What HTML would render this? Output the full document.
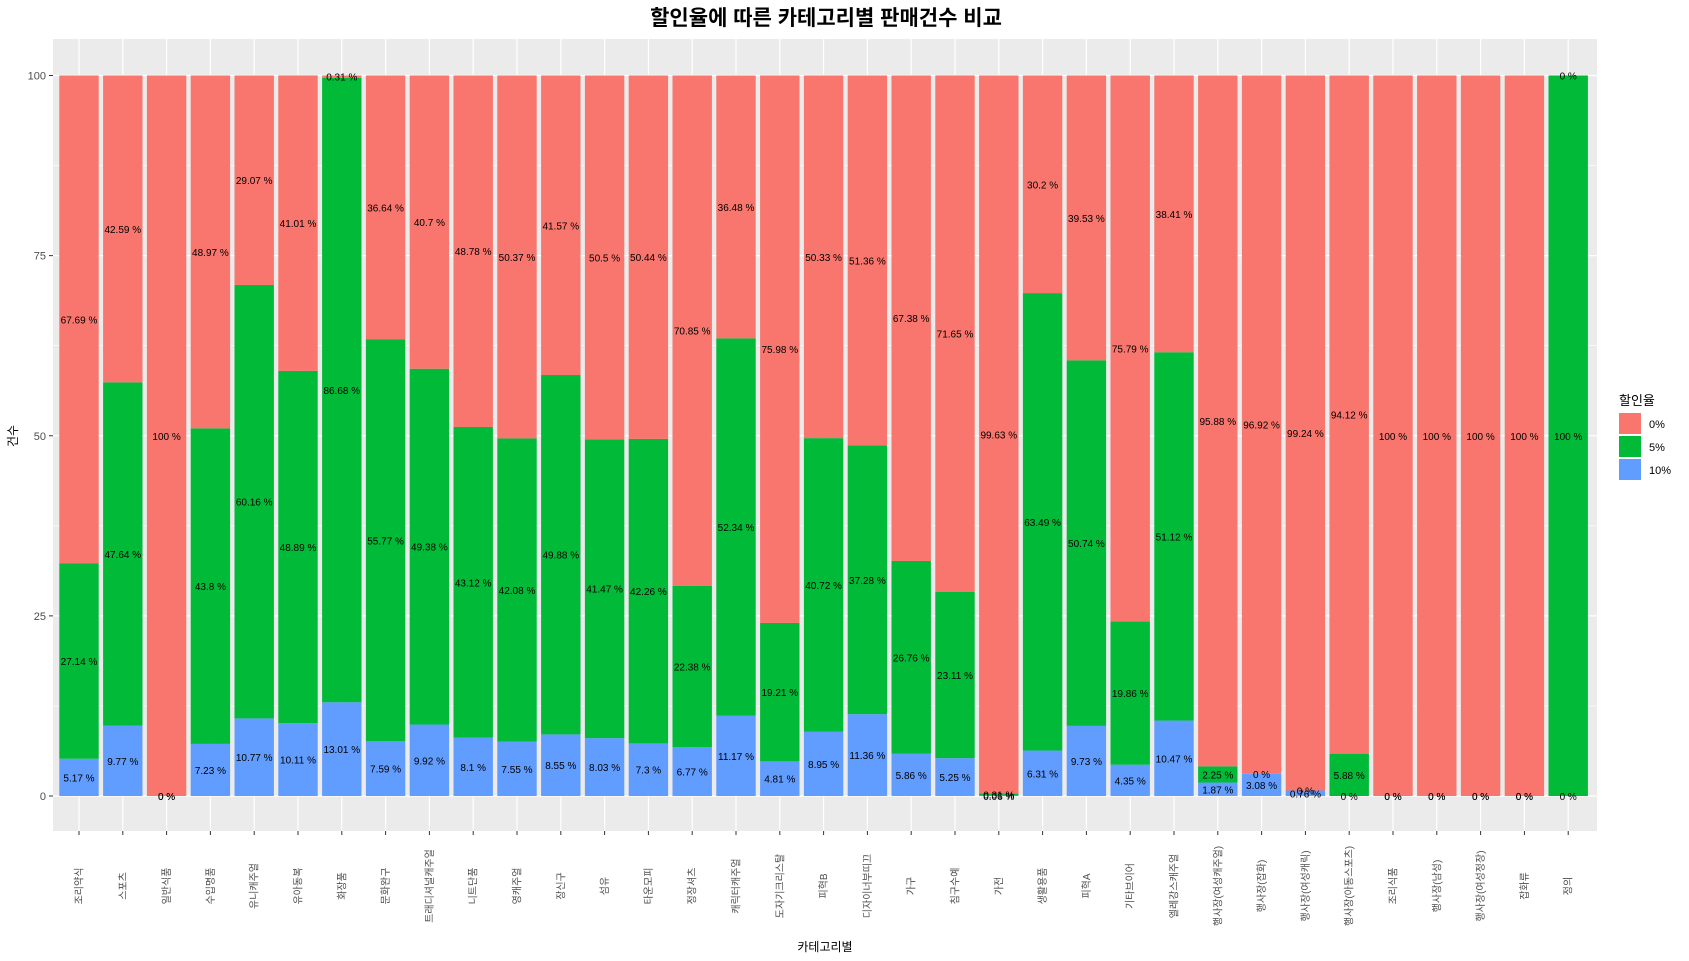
<!DOCTYPE html>
<html><head><meta charset="utf-8"><style>
html,body{margin:0;padding:0;background:#fff;}
svg{display:block;font-family:"Liberation Sans","Noto Sans CJK KR",sans-serif;}
</style></head><body>
<svg id="chart" width="1689" height="961">
<text x="826" y="25" text-anchor="middle" font-size="21" font-weight="bold">할인율에 따른 카테고리별 판매건수 비교</text>
<rect x="53" y="39" width="1544" height="792" fill="#ebebeb"/>
<g id="grid"></g><g id="bars"></g><g id="labels"></g><g id="axes"></g>
<text x="825" y="951" text-anchor="middle" font-size="12">카테고리별</text>
<text transform="translate(17,436) rotate(-90)" text-anchor="middle" font-size="12">건수</text>
<g>
<text x="1619" y="405" font-size="13">할인율</text>
<rect x="1619" y="413" width="22" height="21" fill="#F8766D"/>
<rect x="1619" y="436" width="22" height="21" fill="#00BA38"/>
<rect x="1619" y="459" width="22" height="21" fill="#619CFF"/>
<text x="1649" y="428" font-size="11">0%</text>
<text x="1649" y="451" font-size="11">5%</text>
<text x="1649" y="474" font-size="11">10%</text>
</g>
</svg>
<script>
const categories=["조리약식","스포츠","일반식품","수입명품","유니캐주얼","유아동복","화장품","문화완구","트래디셔널캐주얼","니트단품","영캐주얼","장신구","섬유","타운모피","정장셔츠","캐릭터캐주얼","도자기크리스탈","피혁B","디자이너부띠끄","가구","침구수예","가전","생활용품","피혁A","기타브이어","엘레강스캐주얼","행사장(여성캐주얼)","행사장(잡화)","행사장(여성캐릭)","행사장(아동스포츠)","조리식품","행사장(남성)","행사장(여성정장)","잡화류","정의"];
const pct10=[5.17,9.77,0,7.23,10.77,10.11,13.01,7.59,9.92,8.1,7.55,8.55,8.03,7.3,6.77,11.17,4.81,8.95,11.36,5.86,5.25,0.06,6.31,9.73,4.35,10.47,1.87,3.08,0.76,0,0,0,0,0,0];
const pct5=[27.14,47.64,0,43.8,60.16,48.89,86.68,55.77,49.38,43.12,42.08,49.88,41.47,42.26,22.38,52.34,19.21,40.72,37.28,26.76,23.11,0.31,63.49,50.74,19.86,51.12,2.25,0,0,5.88,0,0,0,0,100];
const pct0=[67.69,42.59,100,48.97,29.07,41.01,0.31,36.64,40.7,48.78,50.37,41.57,50.5,50.44,70.85,36.48,75.98,50.33,51.36,67.38,71.65,99.63,30.2,39.53,75.79,38.41,95.88,96.92,99.24,94.12,100,100,100,100,0];
const yTicks=[0,25,50,75,100];
const NS="http://www.w3.org/2000/svg";
const px0=53,px1=1597,y0=796,y100=75.5;
const band=43.8,x1=79;
function xScale(i){return x1+i*band;}
function yScale(v){return y0-(v/100)*(y0-y100);}
function mk(tag,attrs,parent){const e=document.createElementNS(NS,tag);for(const k in attrs)e.setAttribute(k,attrs[k]);parent.appendChild(e);return e;}
const grid=document.getElementById('grid'),bars=document.getElementById('bars'),labels=document.getElementById('labels'),axes=document.getElementById('axes');
for(let v=-12.5;v<=112.5;v+=25){const y=yScale(v);if(y<39||y>831)continue;
const l=mk('line',{x1:px0,x2:px1,y1:y,y2:y,stroke:'#fff','stroke-width':0.6},grid);

}
yTicks.forEach(v=>{const y=yScale(v);
const l=mk('line',{x1:px0,x2:px1,y1:y,y2:y,stroke:'#fff','stroke-width':1.2},grid);


const t=mk('line',{x1:px0-4,x2:px0,y1:y,y2:y,stroke:'#333','stroke-width':1},axes);


const tx=mk('text',{x:px0-7,y:y+4,'text-anchor':'end','font-size':11,fill:'#4d4d4d'},axes);tx.textContent=v;

});
const colors=['#619CFF','#00BA38','#F8766D'];
const series=[pct10,pct5,pct0];
categories.forEach((c,i)=>{const cx=xScale(i);
const g=mk('line',{x1:cx,x2:cx,y1:39,y2:831,stroke:'#fff','stroke-width':1.2},grid);


let cum=0;
series.forEach((s,k)=>{const v=s[i];const top=cum+v;
const r=mk('rect',{x:cx-19.7,width:39.4,y:yScale(top),height:Math.max(0,yScale(cum)-yScale(top)),fill:colors[k]},bars);


const t=mk('text',{x:cx,y:yScale(cum+v/2)+4,'text-anchor':'middle','font-size':10,fill:'#000'},labels);
t.textContent=v+' %';


cum=top;});
const tk=mk('line',{x1:cx,x2:cx,y1:831,y2:835,stroke:'#333','stroke-width':1},axes);


const xt=mk('text',{transform:`translate(${cx+3.5},886) rotate(-90)`,'text-anchor':'middle','font-size':10,fill:'#4d4d4d'},axes);
xt.textContent=c;

});
</script>
</body></html>
